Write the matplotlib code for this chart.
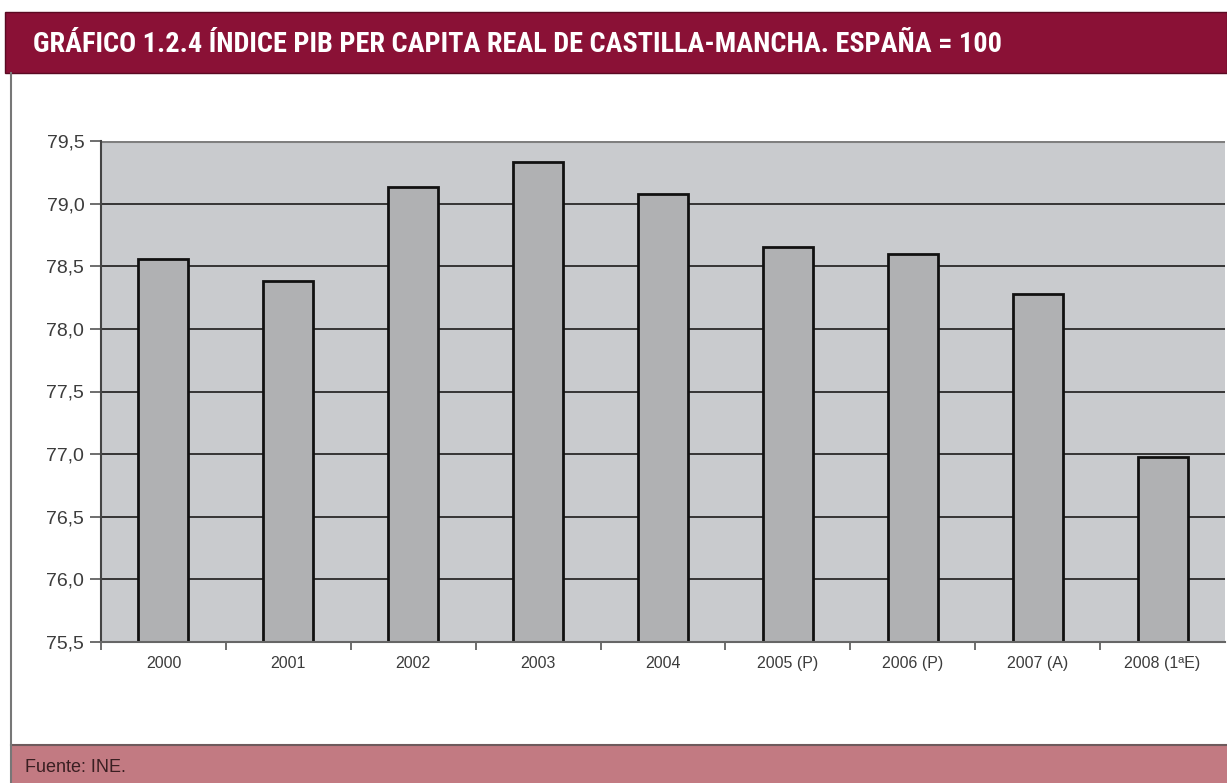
import matplotlib
matplotlib.use("Agg")
import matplotlib.pyplot as plt
from matplotlib.patches import Rectangle
from matplotlib.lines import Line2D
from matplotlib import font_manager
import numpy as np

categories = ["2000", "2001", "2002", "2003", "2004", "2005 (P)", "2006 (P)", "2007 (A)", "2008 (1ªE)"]
values = [78.56, 78.38, 79.13, 79.33, 79.08, 78.65, 78.60, 78.28, 76.98]
yticks = [75.5, 76.0, 76.5, 77.0, 77.5, 78.0, 78.5, 79.0, 79.5]
ytick_labels = ["75,5", "76,0", "76,5", "77,0", "77,5", "78,0", "78,5", "79,0", "79,5"]
title = "GRÁFICO 1.2.4 ÍNDICE PIB PER CAPITA REAL DE CASTILLA-MANCHA. ESPAÑA = 100"
source = "Fuente: INE."

names = sorted({f.name for f in font_manager.fontManager.ttflist})
narrow = None
for cand in ["Liberation Sans Narrow", "DejaVu Sans Condensed", "Roboto Condensed", "Open Sans Condensed"]:
    if cand in names:
        narrow = cand
        break

W, H = 1227, 783
fig = plt.figure(figsize=(W / 100, H / 100), dpi=100)
fig.patch.set_facecolor("white")

def fx(px):
    return px / W

def fy(py):
    return 1 - py / H

# title banner
fig.patches.append(Rectangle((fx(5), fy(73)), fx(W - 5), (73 - 12) / H, transform=fig.transFigure,
                             facecolor="#8a1136", edgecolor="#5a0a22", lw=1.0))
if narrow is not None:
    fig.text(fx(33), fy(44), title, color="white", fontsize=20.3, fontweight="bold",
             family=[narrow, "DejaVu Sans"], va="center", ha="left")
else:
    fig.text(fx(33), fy(44), title, color="white", fontsize=15.5, fontweight="bold",
             family=["DejaVu Sans"], fontstretch="condensed", va="center", ha="left")

# bottom source band
fig.patches.append(Rectangle((fx(11), 0), fx(W - 11), (H - 745) / H, transform=fig.transFigure,
                             facecolor="#c27a82", edgecolor="none"))
fig.lines.append(Line2D([fx(11), 1], [fy(745), fy(745)], transform=fig.transFigure, color="#6e5a5c", lw=1.5))
fig.text(fx(25), fy(767), source, color="#3a1f22", fontsize=13,
         family=["Liberation Sans", "DejaVu Sans"], va="center", ha="left")

# left frame line
fig.lines.append(Line2D([fx(11), fx(11)], [fy(73), fy(783)], transform=fig.transFigure, color="#777777", lw=1.5))

# axes
ax = fig.add_axes([fx(101), fy(642), fx(1225 - 101), (642 - 141) / H])
ax.set_facecolor("#c9cbce")
x = np.arange(len(categories))
ax.set_ylim(75.5, 79.5)
ax.set_xlim(-0.5, len(categories) - 0.5)

for yv in yticks[1:-1]:
    ax.axhline(yv, color="#2a2a2a", lw=1.3, zorder=1)
ax.axhline(79.5, color="#7f7f7f", lw=2.2, zorder=1)

ax.bar(x, np.array(values) - 75.5, bottom=75.5, width=0.4, color="#b0b1b3",
       edgecolor="#111111", linewidth=2.0, zorder=2)

ax.set_yticks(yticks)
ax.set_yticklabels(ytick_labels, fontsize=14, color="#3c3c3c", family=["Liberation Sans", "DejaVu Sans"])
ax.tick_params(axis="y", direction="out", length=8, width=1.2, color="#555555", pad=4)

ax.set_xticks(x)
ax.set_xticklabels(categories, fontsize=11.5, color="#3c3c3c", family=["Liberation Sans", "DejaVu Sans"])
ax.tick_params(axis="x", which="major", length=0, pad=10)
ax.set_xticks(np.arange(-0.5, len(categories) - 0.5, 1.0), minor=True)
ax.tick_params(axis="x", which="minor", direction="out", length=6, width=1.2, color="#555555")

for s in ["top", "right"]:
    ax.spines[s].set_visible(False)
ax.spines["left"].set_color("#444444")
ax.spines["left"].set_linewidth(1.5)
ax.spines["bottom"].set_color("#666666")
ax.spines["bottom"].set_linewidth(1.5)

fig.savefig("out.png", dpi=100, facecolor=fig.get_facecolor())
